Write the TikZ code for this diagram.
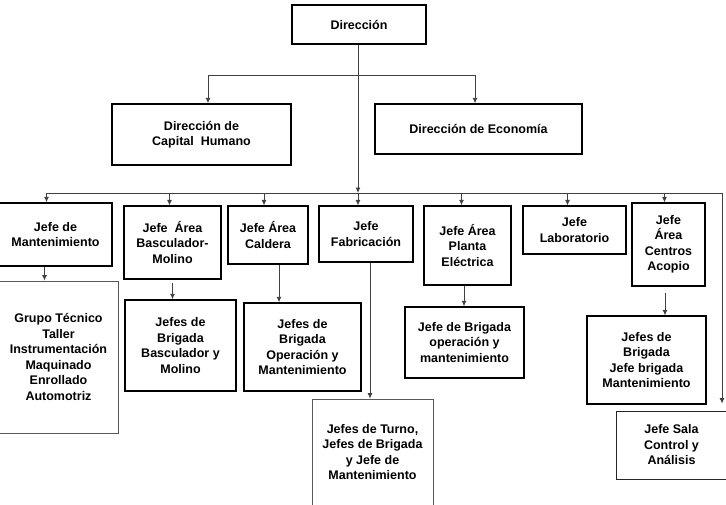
\documentclass[tikz,border=0pt]{standalone}
\usepackage{fontspec}
\setmainfont{Liberation Sans}
\usetikzlibrary{arrows.meta, positioning, calc}

\newcommand{\orgfont}{\bfseries\fontsize{12.5}{15.5}\selectfont}
\tikzset{
  box/.style={draw, line width=1.4pt, align=center, inner sep=2pt, font=\orgfont},
  thinbox/.style={box, line width=0.8pt, draw=black!65},
  wire/.style={line width=0.9pt, draw=black!75},
  link/.style={wire, -{Latex[length=5.5pt, width=5pt]}},
}

\begin{document}
\begin{tikzpicture}[x=1pt, y=-1pt]
\useasboundingbox (0,0) rectangle (726,504);

% direction and its two offices
\node[box, minimum width=134pt, minimum height=39pt] (dir) at (359,24.5) {Dirección};
\node[box, minimum width=179pt, minimum height=61pt] (caphum) at (201.5,134.5) {Dirección de\\Capital~\ Humano};
\node[box, minimum width=207pt, minimum height=50pt] (econ) at (478.5,129) {Dirección de Economía};

% heads on the bus
\node[box, minimum width=113pt, minimum height=63pt] (mant) at (55.5,234.5) {Jefe de\\Mantenimiento};
\node[box, line width=1.1pt, minimum width=97pt, minimum height=73pt] (bascu) at (172.5,242.5) {Jefe~\ Área\\Basculador-\\Molino};
\node[box, line width=1.1pt, minimum width=80pt, minimum height=58pt] (cald) at (268,235) {Jefe Área\\Caldera};
\node[box, line width=1.1pt, minimum width=94pt, minimum height=56pt] (fab) at (366,234) {Jefe\\Fabricación};
\node[box, minimum width=87pt, minimum height=79pt] (planta) at (467.5,245.5) {Jefe Área\\Planta\\Eléctrica};
\node[box, line width=1.1pt, minimum width=103pt, minimum height=48pt] (lab) at (574.5,230) {Jefe\\Laboratorio};
\node[box, line width=1.1pt, minimum width=73pt, minimum height=83pt] (acopio) at (668.5,244.5) {Jefe\\Área\\Centros\\Acopio};

% brigades
\node[thinbox, minimum width=119pt, minimum height=152pt] (grupo) at (58.5,357) {Grupo Técnico\\Taller\\Instrumentación\\Maquinado\\Enrollado\\Automotriz};
\node[box, minimum width=111pt, minimum height=91pt] (brigbas) at (180.5,345.5) {Jefes de\\Brigada\\Basculador y\\Molino};
\node[box, minimum width=117pt, minimum height=88pt] (brigop) at (302.5,347) {Jefes de\\Brigada\\Operación y\\Mantenimiento};
\node[thinbox, minimum width=121pt, minimum height=106pt] (turno) at (372.5,452) {Jefes de Turno,\\Jefes de Brigada\\y Jefe de\\Mantenimiento};
\node[box, minimum width=119pt, minimum height=71pt] (brigpl) at (464.5,342.5) {Jefe de Brigada\\operación y\\mantenimiento};
\node[box, line width=1.1pt, minimum width=119pt, minimum height=88pt] (brigac) at (646.5,360) {Jefes de\\Brigada\\Jefe brigada\\Mantenimiento};
\node[thinbox, draw=black!85, minimum width=111pt, minimum height=68pt] (sala) at (671.5,445) {Jefe Sala\\Control y\\Análisis};

\coordinate (top) at (358,75);
\coordinate (busL) at (47,193);
\coordinate (busR) at (722,193);

\draw[link] (top) -| ([xshift=6.5pt]caphum.north);
\draw[link] (top) -| ([xshift=-3.5pt]econ.north);
\draw[link] ([xshift=-1pt]dir.south) -- ([xshift=-1pt]dir.south |- busL);
\draw[wire] (busL) -- (busR);
\foreach \n/\dx in {mant/-9, bascu/-3, cald/-4, fab/-8, planta/-6, lab/-7, acopio/-4}
  \draw[link] ([xshift=\dx pt]\n.north |- busL) -- ([xshift=\dx pt]\n.north);
\draw[link, shorten >=7pt] (busR) -- (busR |- sala.north);

\foreach \a/\b/\dx/\gap in {mant/grupo/-11/0, bascu/brigbas/0/3, cald/brigop/11/0, fab/turno/4/0, planta/brigpl/-3.5/0, acopio/brigac/-3.5/6}
  \draw[link, shorten <=\gap pt] ([xshift=\dx pt]\a.south) -- ([xshift=\dx pt]\a.south |- \b.north);
\end{tikzpicture}
\end{document}
